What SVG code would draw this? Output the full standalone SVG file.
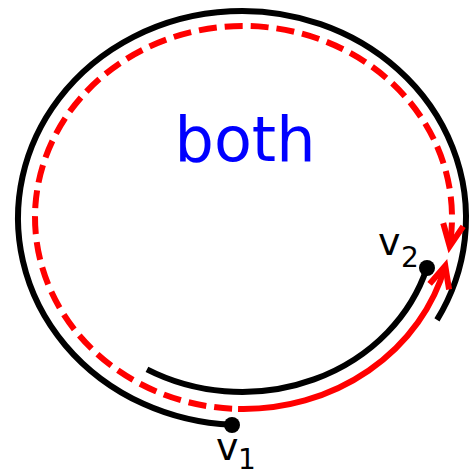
<svg xmlns="http://www.w3.org/2000/svg" width="474" height="476" viewBox="0 0 474 476">
  <style>
    .blk { fill: none; stroke: #000; stroke-width: 6; }
    .red { fill: none; stroke: #FF0000; stroke-width: 6; }
    .dash { stroke-dasharray: 18 8; stroke-dashoffset: 20; }
    .dot { fill: #000; }
    .lbl { font-family: "DejaVu Sans", "Liberation Sans", sans-serif; fill: #000; }
    .title { font-family: "DejaVu Sans", "Liberation Sans", sans-serif; fill: #0000FF; font-size: 62px; }
  </style>
  <defs>
    <marker id="vhead" markerUnits="userSpaceOnUse" orient="auto" refX="0" refY="0" markerWidth="40" markerHeight="40" viewBox="-30 -20 40 40" overflow="visible">
      <path d="M-21.7,-10.1 L0,0 L-21.7,10.1" fill="none" stroke="#FF0000" stroke-width="6" stroke-linejoin="miter"/>
    </marker>
  </defs>
  <rect width="474" height="476" fill="#fff"/>
  <g id="connectors">
    <path id="outer-walk" class="blk" d="M231.84,424.79 A224,207 0 1 1 436.96,319.93"/>
    <path id="inner-walk" class="blk" d="M426.86,268 A193,174 0 0 1 146.96,369.44"/>
    <path id="dashed-arrow" class="red dash" d="M238.04,408.93 A208.5,191.5 0 1 1 449.66,246.14" marker-end="url(#vhead)"/>
    <path id="solid-arrow" class="red" d="M238.04,408.93 A208.5,191.5 0 0 0 445.27,265.77" marker-end="url(#vhead)"/>
  </g>
  <g id="label-both">
    <text class="title" x="245" y="161" text-anchor="middle">both</text>
  </g>
  <g id="v1">
    <circle class="dot" cx="232" cy="425" r="8"/>
    <text class="lbl" x="216" y="460" font-size="38">v<tspan x="238" y="469" font-size="28">1</tspan></text>
  </g>
  <g id="v2">
    <circle class="dot" cx="427" cy="268" r="8"/>
    <text class="lbl" x="378" y="255" font-size="38">v<tspan x="401" y="267" font-size="28">2</tspan></text>
  </g>
</svg>
